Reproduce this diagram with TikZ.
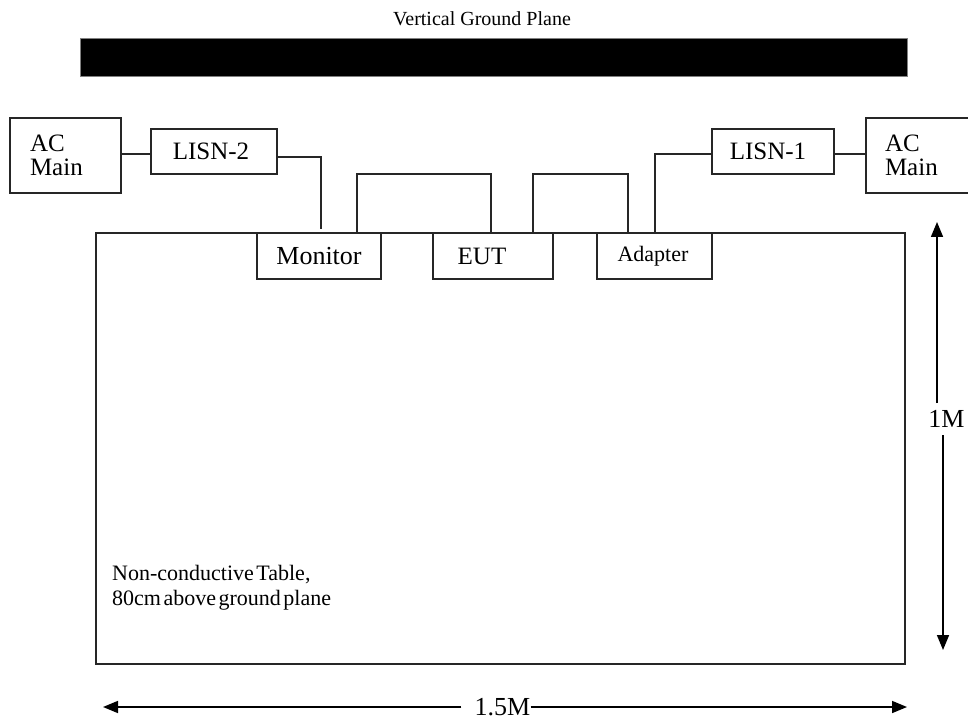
\documentclass[tikz,border=0pt]{standalone}
\usepackage{fontspec}
\setmainfont{Liberation Serif}
\usetikzlibrary{arrows.meta}
\definecolor{lc}{RGB}{38,38,38}
\begin{document}
\begin{tikzpicture}[x=1pt,y=-1pt,
  box/.style={draw=lc, line width=1.6pt, fill=white, inner sep=0pt, font=\fontsize{25}{24}\selectfont},
  acbox/.style={box, text width=71pt, inner xsep=20pt, align=left, minimum height=75pt},
  wire/.style={draw=lc, line width=1.6pt},
  dimarrow/.style={draw=black, line width=1.6pt, -{Triangle[length=15pt,width=12pt]}},
  dimlabel/.style={inner sep=0pt, text depth=0pt, font=\fontsize{26}{28}\selectfont}
]
\useasboundingbox (0,0) rectangle (968,719);
\fill[white] (0,0) rectangle (968,719);

% title and ground plane
\node[font=\fontsize{20}{24}\selectfont, inner sep=0pt, anchor=base] (title) at (482,26) {Vertical Ground Plane};
\node[fill=black, draw=gray, line width=0.8pt, minimum width=827pt, minimum height=38pt, inner sep=0pt] (gp) at (493.5,57) {};

% table
\node[draw=lc, line width=1.6pt, minimum width=809pt, minimum height=431pt, inner sep=0pt] (table) at (500.5,448.5) {};
\node[anchor=base west, inner sep=0pt, font=\fontsize{22}{25}\selectfont] (tab1) at (112,580) {Non-conductive\hspace{-3pt} Table,};
\node[anchor=base west, inner sep=0pt, font=\fontsize{22}{25}\selectfont] (tab2) at (112,605) {80cm\hspace{-3pt} above\hspace{-3pt} ground\hspace{-3pt} plane};

% boxes
\node[acbox] (acL) at (65.5,155.5) {AC\\Main};
\node[box, minimum width=126pt, minimum height=45pt] (lisn2) at (214,151.5) {\hspace{-6pt}LISN-2};
\node[box, minimum width=124pt, minimum height=46pt, font=\fontsize{26}{24}\selectfont] (monitor) at (319,256) {Monitor};
\node[box, minimum width=120pt, minimum height=46pt] (eut) at (493,256) {\hspace{-22pt}EUT};
\node[box, minimum width=115pt, minimum height=46pt, font=\fontsize{22}{24}\selectfont] (adapter) at (654.5,256) {\hspace{-3pt}Adapter};
\node[box, minimum width=122pt, minimum height=45pt] (lisn1) at (773,151.5) {\hspace{-10pt}LISN-1};
\node[acbox, inner xsep=19pt] (acR) at (920.5,155.5) {AC\\Main};

% connectors
\coordinate (mtop) at (321,229);
\draw[wire] ([yshift=-2.5pt]lisn2.west) -- ([yshift=-2.5pt]lisn2.west -| acL.east);
\draw[wire] ([yshift=-5.5pt]lisn2.east) -| (mtop);
\draw[wire] ([xshift=38pt]monitor.north) -- ++(0,-58) -| ([xshift=-2pt]eut.north);
\draw[wire] ([xshift=40pt]eut.north) -- ++(0,-58) -| ([xshift=-26.5pt]adapter.north);
\draw[wire] ([xshift=0.5pt]adapter.north) |- ([yshift=-2.5pt]lisn1.west);
\draw[wire] ([yshift=-2.5pt]lisn1.east) -- ([yshift=-2.5pt]lisn1.east -| acR.west);

% dimensions
\node[dimlabel, anchor=base] (onem) at (946.5,427) {1M};
\coordinate (vtopS) at (937,403);
\coordinate (vtop) at (937,222);
\coordinate (vbotS) at (943,435);
\coordinate (vbot) at (943,650);
\draw[dimarrow] (vtopS) -- (vtop);
\draw[dimarrow] (vbotS) -- (vbot);

\node[dimlabel, anchor=base] (onefive) at (502.5,715) {1.5M};
\coordinate (hleft) at (103,707);
\coordinate (hright) at (907,707);
\draw[dimarrow] ([xshift=-13pt]onefive.west |- hleft) -- (hleft);
\draw[dimarrow] (onefive.east |- hright) -- (hright);
\end{tikzpicture}
\end{document}
